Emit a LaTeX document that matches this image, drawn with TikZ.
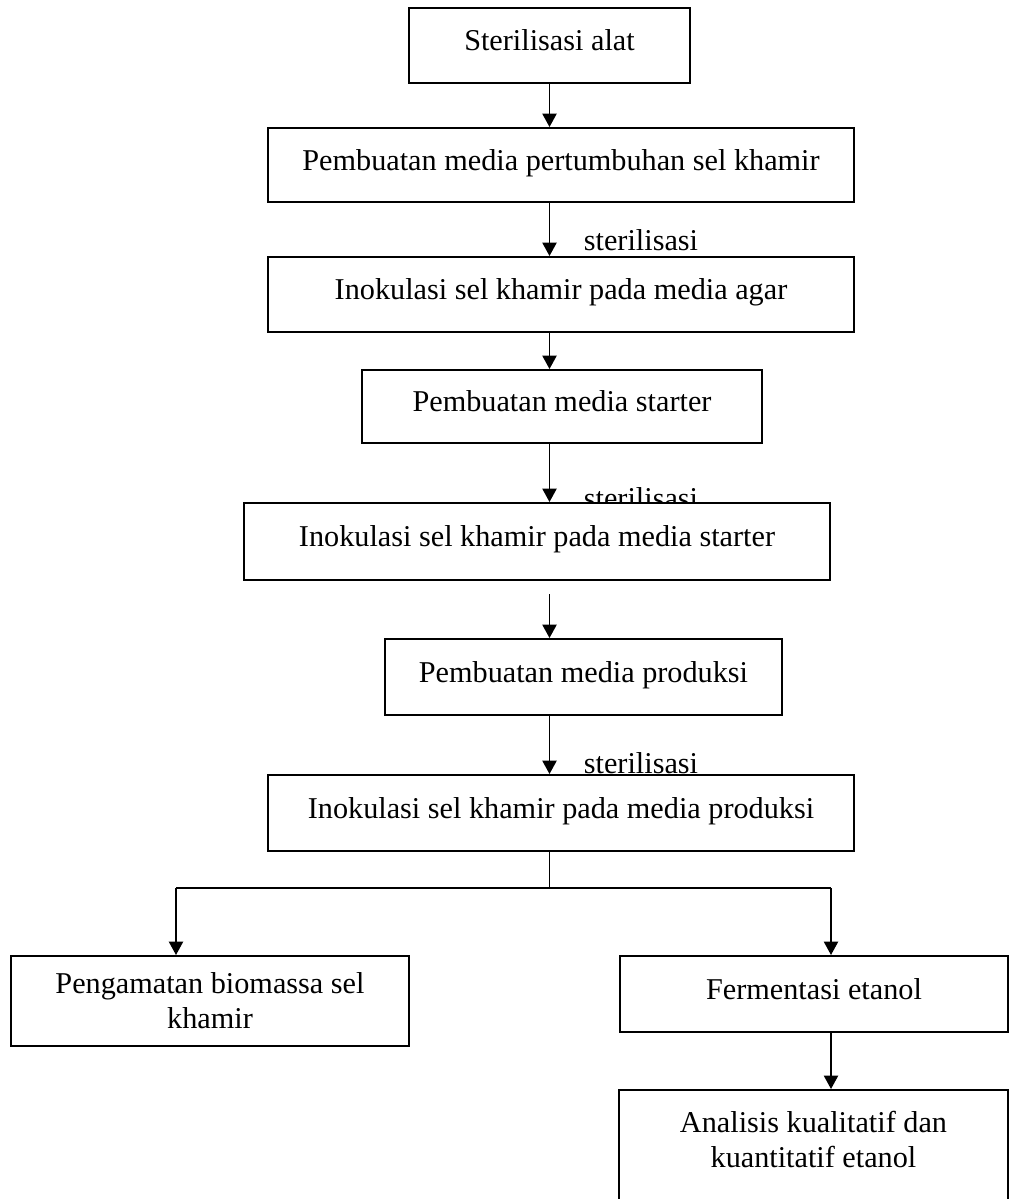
\documentclass[tikz,border=0pt]{standalone}
\usepackage{fontspec}
\setmainfont{Liberation Serif}
\usetikzlibrary{arrows.meta}

\begin{document}
\begin{tikzpicture}[x=0.0143cm, y=-0.0143cm, line width=0.8pt]
  \tikzset{
    procbox/.style 2 args={
      draw, fill=white, inner sep=0pt,
      minimum width=#1*0.0143cm,
      minimum height=#2*0.0143cm,
      text height=0.3cm, text depth=0.15cm,
      font=\fontsize{12.3}{14.3}\selectfont,
    },
    twoline/.style={text height=, text depth=, align=center},
    flow/.style={-{Triangle[width=0.2cm,length=0.19cm]}},
    sterlabel/.style={inner sep=0pt, font=\fontsize{12.3}{14.3}\selectfont},
  }
  \useasboundingbox (0,0) rectangle (1010,1199);
  \clip (0,0) rectangle (1010,1199);

  \node[procbox={281}{75}] (steril) at (549.5,45.5) {Sterilisasi alat};
  \node[procbox={586}{74}] (mediatumbuh) at (561,165) {Pembuatan media pertumbuhan sel khamir};
  \node[sterlabel] (ster1) at (641,240) {sterilisasi};
  \node[procbox={586}{75}] (inokagar) at (561,294.5) {Inokulasi sel khamir pada media agar};
  \node[procbox={400}{73}] (mediastart) at (562,406.5) {Pembuatan media starter};
  \node[sterlabel] (ster2) at (641,498) {sterilisasi};
  \node[procbox={586}{77}] (inokstart) at (537,541.5) {Inokulasi sel khamir pada media starter};
  \node[procbox={397}{76}] (mediaprod) at (583.5,677) {Pembuatan media produksi};
  \node[sterlabel] (ster3) at (641,763) {sterilisasi};
  \node[procbox={586}{76}] (inokprod) at (561,813) {Inokulasi sel khamir pada media produksi};
  \node[procbox={398}{90}, twoline] (biomassa) at (210,1001) {Pengamatan biomassa sel\\khamir};
  \node[procbox={388}{76}] (ferment) at (814,994) {Fermentasi etanol};
  \node[procbox={389}{140}, align=center, text height=, text depth=0.6cm] (analisis) at (813.5,1160)
    {Analisis kualitatif dan\\kuantitatif etanol};

  \draw[flow] (steril.south) -- (steril.south |- mediatumbuh.north);
  \draw[flow] (mediatumbuh.south -| steril.south) -- (inokagar.north -| steril.south);
  \draw[flow] (inokagar.south -| steril.south) -- (mediastart.north -| steril.south);
  \draw[flow] (mediastart.south -| steril.south) -- (inokstart.north -| steril.south);
  \coordinate (prodstart) at (549.5,594);
  \draw[flow] (prodstart) -- (prodstart |- mediaprod.north);
  \draw[flow] (mediaprod.south -| steril.south) -- (inokprod.north -| steril.south);

  % cabang ke dua pengamatan
  \coordinate (split) at (549.5,888);
  \coordinate (splitL) at (176,888);
  \coordinate (splitR) at (831,888);
  \draw (inokprod.south -| split) -- (split);
  \draw (splitL) -- (splitR);
  \draw[flow] (splitL) -- (splitL |- biomassa.north);
  \draw[flow] (splitR) -- (splitR |- ferment.north);
  \draw[flow] (ferment.south -| splitR) -- (splitR |- analisis.north);
\end{tikzpicture}
\end{document}
